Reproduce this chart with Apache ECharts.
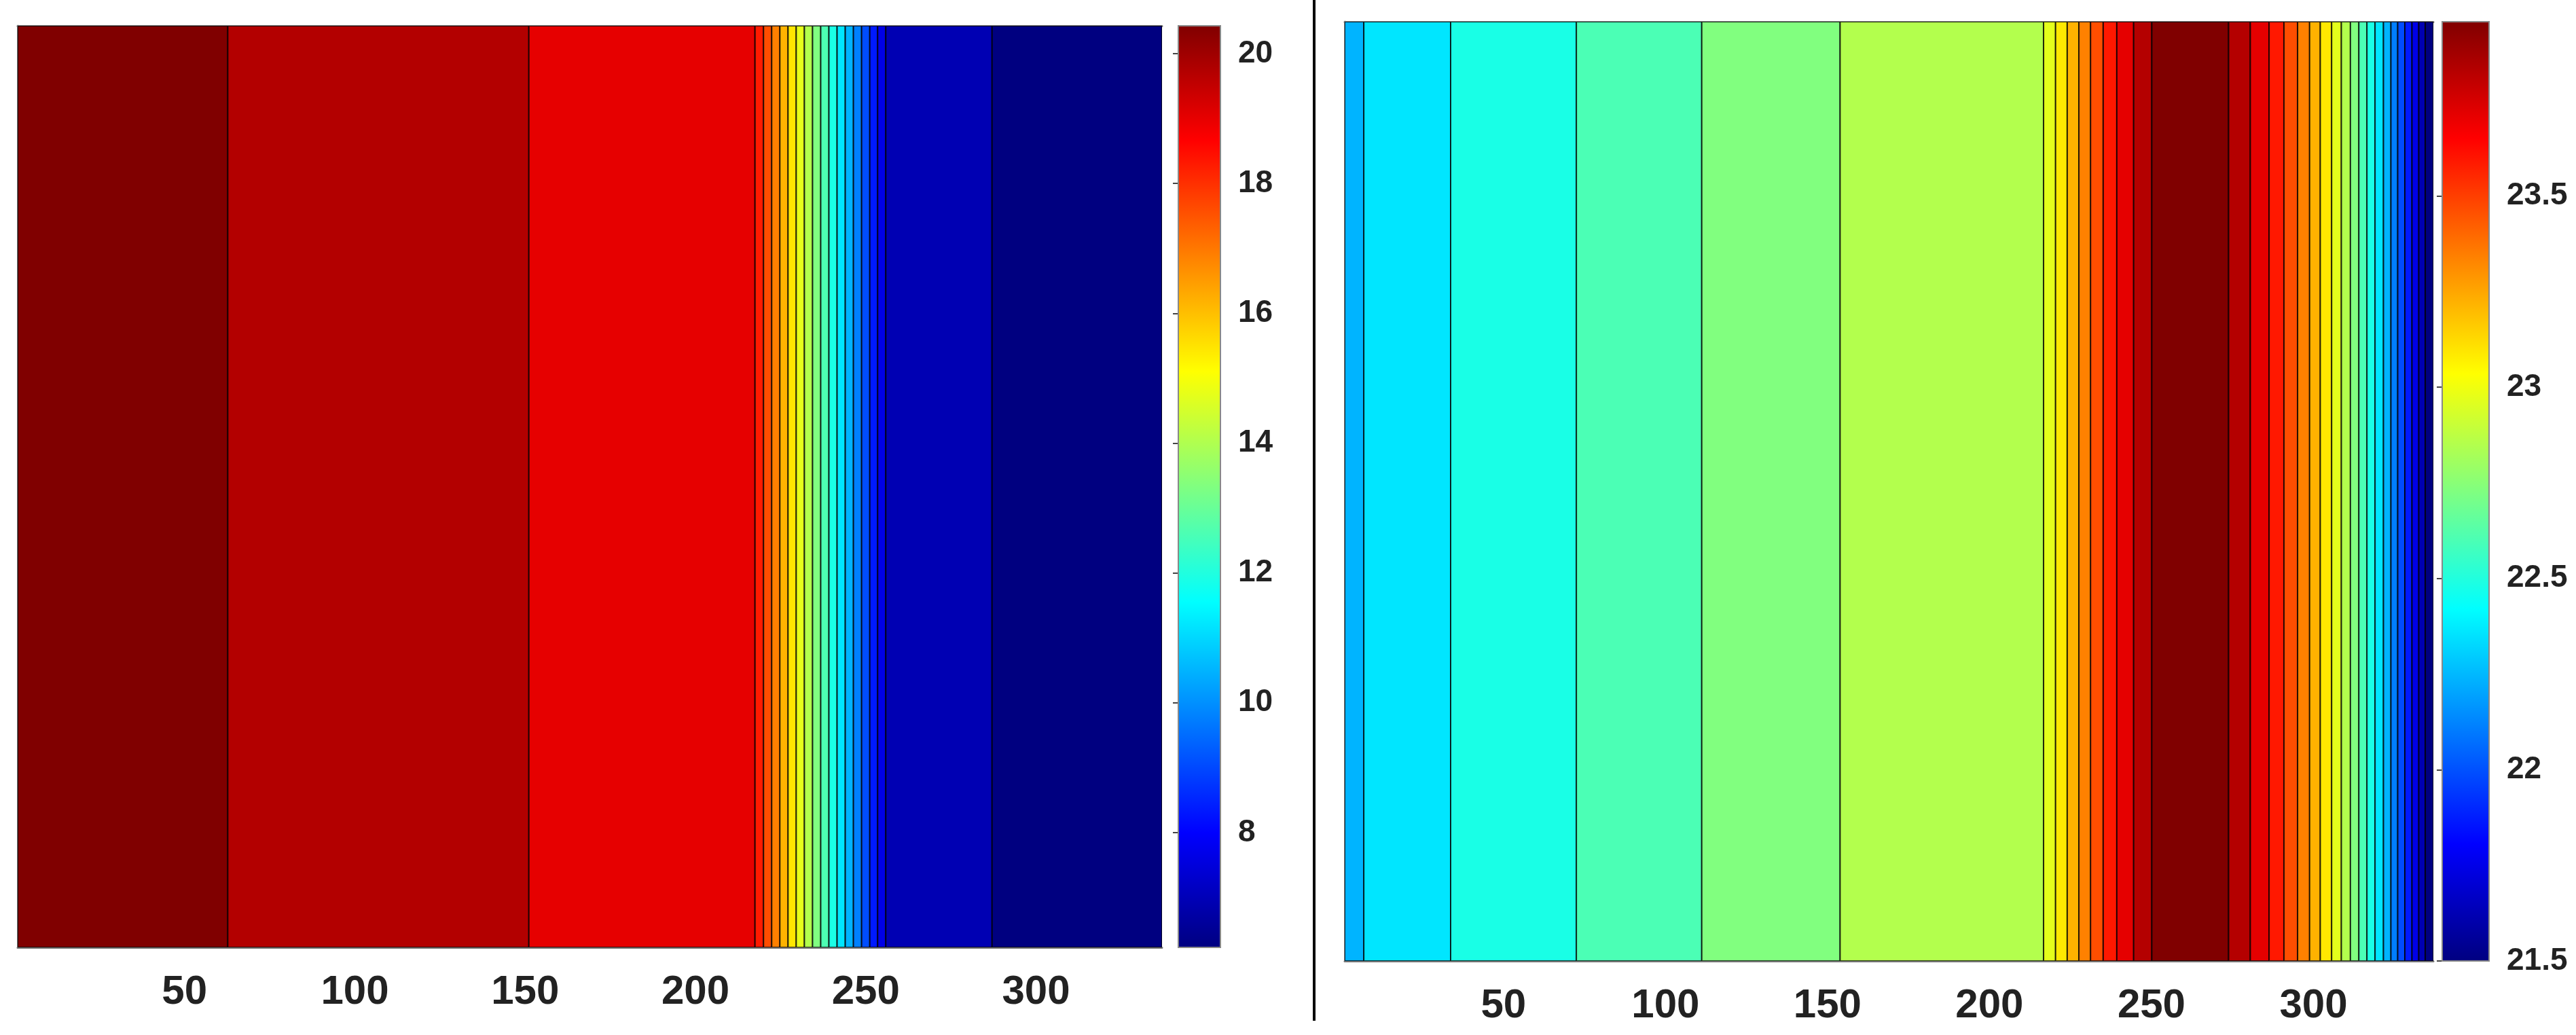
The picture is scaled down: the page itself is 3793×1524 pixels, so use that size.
<!DOCTYPE html>
<html>
<head>
<meta charset="utf-8">
<script src="https://cdn.jsdelivr.net/npm/echarts@6/dist/echarts.min.js"></script>
<style>
html,body{margin:0;padding:0;background:#fff;}
#main{width:3793px;height:1524px;}
</style>
</head>
<body>
<div id="main"></div>
<script>
// 左图: 色带边界 (x) 与色带数值
var leftEdges = [1, 62.7, 151.1, 217.5, 220.0, 222.4, 224.8, 227.2, 229.6, 232.0, 234.4, 236.8, 239.2,
	241.6, 244.0, 246.4, 248.8, 251.2, 253.5, 255.9, 287.1, 337];
var leftValues = [20.43, 19.72, 19.01, 18.30, 17.59, 16.88, 16.17, 15.46, 14.75, 14.04, 13.33, 12.62,
	11.91, 11.20, 10.49, 9.78, 9.07, 8.36, 7.65, 6.94, 6.23];
var leftRange = [6.23, 20.43];
var leftTicks = [8, 10, 12, 14, 16, 18, 20];

// 右图
var rightEdges = [1, 6.9, 33.7, 72.5, 111.2, 153.9, 216.7, 220.4, 224.0, 227.6, 231.2, 235.1, 239.3,
	244.5, 250.1, 273.8, 280.5, 286.3, 290.9, 295.1, 298.8, 302.1, 305.6, 308.6, 311.4, 314.0, 316.5,
	319.0, 321.6, 323.9, 326.0, 328.2, 330.4, 332.5, 334.5, 337];
var rightValues = [22.24, 22.36, 22.48, 22.60, 22.73, 22.85, 22.97, 23.09, 23.22, 23.34, 23.46, 23.59,
	23.71, 23.83, 23.955, 23.83, 23.71, 23.59, 23.46, 23.34, 23.22, 23.09, 22.97, 22.85, 22.73, 22.60,
	22.48, 22.36, 22.24, 22.11, 21.99, 21.87, 21.75, 21.62, 21.5];
var rightRange = [21.5, 23.955];
var rightTicks = [21.5, 22, 22.5, 23, 23.5];

var xTicks = [50, 100, 150, 200, 250, 300];

var jet = ['#000080', '#0000FF', '#0080FF', '#00FFFF', '#80FF80', '#FFFF00', '#FF8000', '#FF0000', '#800000'];
var FONT = 'Liberation Sans';

function bands(edges, values) {
	var out = [];
	for (var i = 0; i < values.length; i++) {
		out.push([edges[i], edges[i + 1], values[i]]);
	}
	return out;
}

function bandItem(params, api) {
	var p0 = api.coord([api.value(0), 1]);
	var p1 = api.coord([api.value(1), 0]);
	return {
		type: 'rect',
		shape: {x: p0[0], y: p0[1], width: p1[0] - p0[0], height: p1[1] - p0[1]},
		style: {fill: api.visual('color'), stroke: 'rgba(0,0,0,0.75)', lineWidth: 2}
	};
}

function barItem(params, api) {
	var p0 = api.coord([0, api.value(1)]);
	var p1 = api.coord([1, api.value(0)]);
	var stops = jet.map(function (c, i) { return {offset: 1 - i / (jet.length - 1), color: c}; });
	return {
		type: 'rect',
		shape: {x: p0[0], y: p0[1], width: p1[0] - p0[0], height: p1[1] - p0[1]},
		style: {fill: new echarts.graphic.LinearGradient(0, 0, 0, 1, stops), stroke: '#888', lineWidth: 2}
	};
}

var myChart = echarts.init(document.getElementById('main'));

function xAxis(gi) {
	return {
		type: 'value', gridIndex: gi, min: 1, max: 337,
		axisLine: {show: true, onZero: false, lineStyle: {color: '#777', width: 3}},
		axisTick: {show: true, inside: true, length: 14, customValues: xTicks, lineStyle: {color: '#333', width: 2}},
		axisLabel: {customValues: xTicks, color: '#222', fontFamily: FONT, fontWeight: 'bold', fontSize: 60, margin: 36},
		splitLine: {show: false}
	};
}
function xTop(gi) {
	return {
		type: 'value', gridIndex: gi, min: 1, max: 337, position: 'top',
		axisLine: {show: true, onZero: false, lineStyle: {color: '#777', width: 3}},
		axisTick: {show: true, inside: true, length: 14, customValues: xTicks, lineStyle: {color: '#555', width: 2}},
		axisLabel: {show: false}, splitLine: {show: false}
	};
}
function yHidden(gi) {
	return {
		type: 'value', gridIndex: gi, min: 0, max: 1,
		axisLine: {show: true, lineStyle: {color: '#777', width: 3}},
		axisTick: {show: false}, axisLabel: {show: false}, splitLine: {show: false}
	};
}
function cbX(gi) {
	return {type: 'value', gridIndex: gi, min: 0, max: 1, show: false};
}
function cbY(gi, range, ticks) {
	return {
		type: 'value', gridIndex: gi, min: range[0], max: range[1], position: 'right',
		axisLine: {show: false},
		axisTick: {show: true, inside: true, length: 8, customValues: ticks, lineStyle: {color: '#444', width: 2}},
		axisLabel: {customValues: ticks, color: '#222', fontFamily: FONT, fontWeight: 'bold', fontSize: 46, margin: 26},
		splitLine: {show: false}
	};
}

var option = {
	backgroundColor: '#fff',
	animation: false,
	grid: [
		{left: 26, top: 38, width: 1685, height: 1357},
		{left: 1735, top: 38, width: 62, height: 1357},
		{left: 1980, top: 32, width: 1603, height: 1383},
		{left: 3596, top: 32, width: 69, height: 1383}
	],
	xAxis: [xAxis(0), xTop(0), cbX(1), xAxis(2), xTop(2), cbX(3)],
	yAxis: [yHidden(0), cbY(1, leftRange, leftTicks), yHidden(2), cbY(3, rightRange, rightTicks)],
	visualMap: [
		{type: 'continuous', show: false, seriesIndex: 0, dimension: 2, min: leftRange[0], max: leftRange[1], inRange: {color: jet}},
		{type: 'continuous', show: false, seriesIndex: 2, dimension: 2, min: rightRange[0], max: rightRange[1], inRange: {color: jet}}
	],
	graphic: [{
		type: 'line', shape: {x1: 1935, y1: 0, x2: 1935, y2: 1503},
		style: {stroke: '#000', lineWidth: 4}
	}],
	series: [
		{type: 'custom', xAxisIndex: 0, yAxisIndex: 0, renderItem: bandItem, data: bands(leftEdges, leftValues), clip: true},
		{type: 'custom', xAxisIndex: 2, yAxisIndex: 1, renderItem: barItem, data: [leftRange]},
		{type: 'custom', xAxisIndex: 3, yAxisIndex: 2, renderItem: bandItem, data: bands(rightEdges, rightValues), clip: true},
		{type: 'custom', xAxisIndex: 5, yAxisIndex: 3, renderItem: barItem, data: [rightRange]}
	]
};
myChart.setOption(option);
</script>
</body>
</html>
